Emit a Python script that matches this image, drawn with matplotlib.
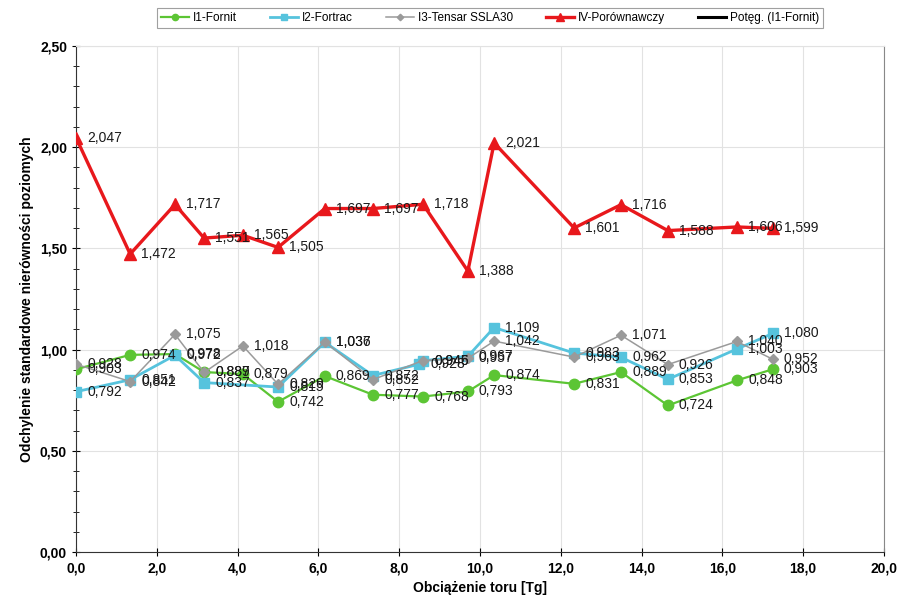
import numpy as np
import matplotlib
matplotlib.use("Agg")
import matplotlib.pyplot as plt
from matplotlib.lines import Line2D
from matplotlib.ticker import FuncFormatter, MultipleLocator

plt.rcParams['font.family'] = ['Liberation Sans', 'DejaVu Sans']

# Obciążenie toru [Tg]
x_main = [0.0, 1.34, 2.45, 3.17, 4.13, 5.0, 6.16, 7.35, 8.59, 9.70, 10.35, 12.33, 13.49, 14.65, 16.36, 17.25]
x_fortrac = [0.0, 1.34, 2.45, 3.17, 5.0, 6.16, 7.35, 8.50, 8.59, 9.70, 10.35, 12.33, 13.49, 14.65, 16.36, 17.25]

i1_fornit = [0.903, 0.974, 0.978, 0.889, 0.879, 0.742, 0.869, 0.777, 0.768, 0.793, 0.874, 0.831, 0.889, 0.724, 0.848, 0.903]
i2_fortrac = [0.792, 0.851, 0.972, 0.837, 0.815, 1.036, 0.872, 0.928, 0.945, 0.967, 1.109, 0.983, 0.962, 0.853, 1.003, 1.080]
i3_tensar = [0.928, 0.842, 1.075, 0.887, 1.018, 0.829, 1.037, 0.852, 0.946, 0.957, 1.042, 0.963, 1.071, 0.926, 1.040, 0.952]
iv_porown = [2.047, 1.472, 1.717, 1.551, 1.565, 1.505, 1.697, 1.697, 1.718, 1.388, 2.021, 1.601, 1.716, 1.588, 1.606, 1.599]

def pl(v, d):
    return f"{v:.{d}f}".replace('.', ',')

fig = plt.figure(figsize=(9.02, 6.03), dpi=100)
ax = fig.add_axes([0.0843, 0.0846, 0.8957, 0.8391])

series = [
    (x_main, i1_fornit, 'I1-Fornit', '#5cc534', 'o', 7.5, 1.6),
    (x_fortrac, i2_fortrac, 'I2-Fortrac', '#56c3dd', 's', 6.5, 2.0),
    (x_main, i3_tensar, 'I3-Tensar SSLA30', '#9a9a9a', 'D', 5.5, 1.1),
    (x_main, iv_porown, 'IV-Porównawczy', '#e8181c', '^', 8.5, 2.4),
]

handles = []
for xs, ys, name, col, mk, ms, lw in series:
    h, = ax.plot(xs, ys, color=col, marker=mk, markersize=ms, linewidth=lw,
                 markeredgecolor=col, label=name, zorder=3)
    handles.append(h)

# etykiety danych
for xs, ys, name, col, mk, ms, lw in series:
    for xv, yv in zip(xs, ys):
        ax.annotate(pl(yv, 3), (xv, yv), xytext=(8, 0), textcoords='offset points',
                    va='center', ha='left', fontsize=10, color='#1a1a1a', zorder=4)

handles.append(Line2D([], [], color='black', linewidth=2.2, label='Potęg. (I1-Fornit)'))

ax.set_xlim(0, 20)
ax.set_ylim(0, 2.5)
ax.xaxis.set_major_locator(MultipleLocator(2))
ax.yaxis.set_major_locator(MultipleLocator(0.5))
ax.yaxis.set_minor_locator(MultipleLocator(0.1))
ax.xaxis.set_major_formatter(FuncFormatter(lambda v, p: pl(v, 1)))
ax.yaxis.set_major_formatter(FuncFormatter(lambda v, p: pl(v, 2)))
ax.grid(True, which='major', color='#e2e2e2', linewidth=0.8, zorder=0)
ax.tick_params(axis='both', which='both', direction='inout', labelsize=10)
ax.tick_params(axis='y', which='minor', length=4)
ax.tick_params(axis='both', which='major', length=6)
for lab in ax.get_xticklabels() + ax.get_yticklabels():
    lab.set_fontweight('bold')

ax.spines['left'].set_color('#333333')
ax.spines['bottom'].set_color('#333333')
ax.spines['right'].set_color('#888888')
ax.spines['top'].set_color('#e2e2e2')

ax.set_xlabel('Obciążenie toru [Tg]', fontsize=10, fontweight='bold')
ax.set_ylabel('Odchylenie standardowe nierówności poziomych', fontsize=10, fontweight='bold')

leg = fig.legend(handles=handles, loc='upper center', bbox_to_anchor=(490 / 902, 0.997),
                 ncol=5, fontsize=8.5, frameon=True, fancybox=False, edgecolor='#888888',
                 handlelength=2.4, columnspacing=2.8, handletextpad=0.3, markerscale=0.6,
                 borderpad=0.35)
leg.get_frame().set_linewidth(0.8)

fig.savefig('out.png', dpi=100)
